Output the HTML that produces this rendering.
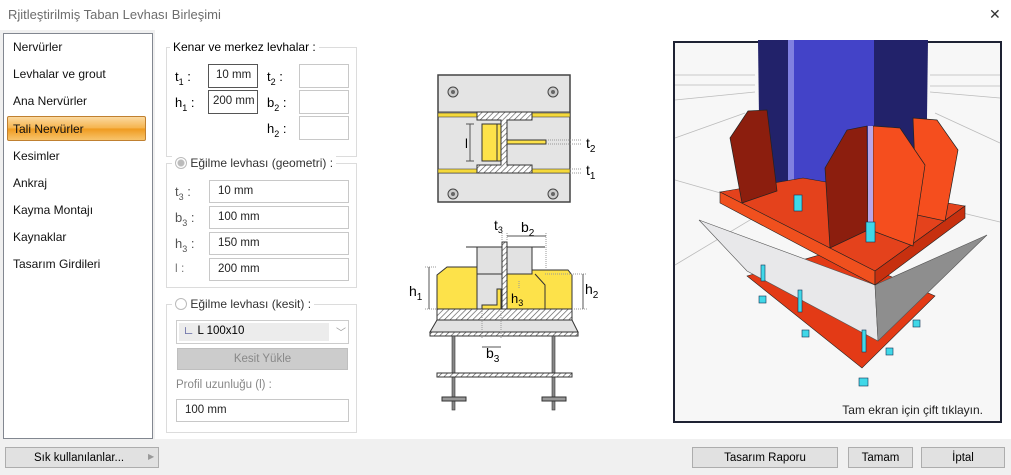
<!DOCTYPE html>
<html><head><meta charset="utf-8"><style>
*{margin:0;padding:0;box-sizing:border-box}
body{width:1011px;height:475px;background:#fff;font-family:"Liberation Sans",sans-serif;font-size:12px;color:#000;position:relative;overflow:hidden}
.a{position:absolute}
.in{position:absolute;border:1px solid #c8c8c8;background:#fff;font-size:11.5px;padding:4px 0 0 8px;color:#222;white-space:nowrap;overflow:hidden}
.grp{position:absolute;border:1px solid #dcdcdc}
.lg{position:absolute;background:#fff;padding:0 3px;font-size:12px;white-space:nowrap}
.li{position:absolute;left:13px;font-size:12px;color:#111}
.btn{position:absolute;background:#e1e1e1;border:1px solid #adadad;font-size:11.5px;text-align:center;padding-top:4px;white-space:nowrap}
sub{font-size:9px;vertical-align:-4px}
.lb{position:absolute;font-size:13px}
</style></head><body>
<div class="a" style="left:8px;top:7px;color:#6d6d6d;font-size:13px">Rjitleştirilmiş Taban Levhası Birleşimi</div>
<div class="a" style="left:989px;top:6px;font-size:14px;color:#333">✕</div>
<div class="a" style="left:0;top:439px;width:1011px;height:36px;background:#f0f0f0"></div>
<div class="a" style="left:0;top:30px;width:155px;height:410px;background:#f0f0f0"></div>
<div class="a" style="left:3px;top:33px;width:150px;height:406px;border:1px solid #828790;background:#fff"></div>
<div class="li" style="top:40px">Nervürler</div>
<div class="li" style="top:67px">Levhalar ve grout</div>
<div class="li" style="top:94px">Ana Nervürler</div>
<div class="a" style="left:7px;top:116px;width:139px;height:25px;border:1px solid #c08030;border-radius:2px;background:linear-gradient(#fbd9a0,#f5b24a 50%,#ef9a1e 51%,#f7c46c)"></div>
<div class="li" style="top:122px">Tali Nervürler</div>
<div class="li" style="top:149px">Kesimler</div>
<div class="li" style="top:176px">Ankraj</div>
<div class="li" style="top:203px">Kayma Montajı</div>
<div class="li" style="top:230px">Kaynaklar</div>
<div class="li" style="top:257px">Tasarım Girdileri</div>

<div class="grp" style="left:166px;top:47px;width:191px;height:110px"></div>
<div class="lg" style="left:170px;top:40px">Kenar ve merkez levhalar :</div>
<div class="lb" style="left:175px;top:69px">t<sub>1</sub> :</div>
<div class="lb" style="left:175px;top:95px">h<sub>1</sub> :</div>
<div class="lb" style="left:267px;top:69px">t<sub>2</sub> :</div>
<div class="lb" style="left:267px;top:95px">b<sub>2</sub> :</div>
<div class="lb" style="left:267px;top:121px">h<sub>2</sub> :</div>
<div class="in" style="left:208px;top:64px;width:50px;height:24px;border-color:#555;padding-left:7px">10 mm</div>
<div class="in" style="left:208px;top:90px;width:50px;height:24px;border-color:#555;padding-left:4px">200 mm</div>
<div class="in" style="left:299px;top:64px;width:50px;height:24px"></div>
<div class="in" style="left:299px;top:90px;width:50px;height:24px"></div>
<div class="in" style="left:299px;top:116px;width:50px;height:24px"></div>

<div class="grp" style="left:166px;top:163px;width:191px;height:125px"></div>
<div class="lg" style="left:172px;top:156px;color:#333"><span style="display:inline-block;width:12px;height:12px;border-radius:50%;border:1px solid #bbb;background:radial-gradient(#bbb 3px,#fff 4px);vertical-align:-2px"></span> Eğilme levhası (geometri) :</div>
<div class="lb" style="left:175px;top:184px;color:#555">t<sub>3</sub> :</div>
<div class="lb" style="left:175px;top:210px;color:#555">b<sub>3</sub> :</div>
<div class="lb" style="left:175px;top:236px;color:#555">h<sub>3</sub> :</div>
<div class="lb" style="left:175px;top:261px;color:#777;font-size:12px">l :</div>
<div class="in" style="left:209px;top:180px;width:140px;height:23px">10 mm</div>
<div class="in" style="left:209px;top:206px;width:140px;height:23px">100 mm</div>
<div class="in" style="left:209px;top:232px;width:140px;height:23px">150 mm</div>
<div class="in" style="left:209px;top:258px;width:140px;height:23px">200 mm</div>

<div class="grp" style="left:166px;top:304px;width:191px;height:129px"></div>
<div class="lg" style="left:172px;top:297px;color:#333"><span style="display:inline-block;width:12px;height:12px;border-radius:50%;border:1px solid #bbb;vertical-align:-2px"></span> Eğilme levhası (kesit) :</div>
<div class="a" style="left:176px;top:320px;width:173px;height:24px;border:1px solid #ccc;background:#fff"></div>
<div class="a" style="left:179px;top:323px;width:150px;height:18px;background:#ececec;font-size:11.5px;padding:2px 0 0 4px"><span style="color:#1a237e;font-weight:bold">∟</span> L 100x10</div>
<div class="a" style="left:336px;top:324px;color:#999;font-size:10px">﹀</div>
<div class="btn" style="left:177px;top:348px;width:171px;height:22px;background:#cccccc;border-color:#bfbfbf;color:#888">Kesit Yükle</div>
<div class="a" style="left:176px;top:379px;color:#888;font-size:11.5px">Profil uzunluğu (l) :</div>
<div class="in" style="left:176px;top:399px;width:173px;height:23px">100 mm</div>

<svg class="a" style="left:0;top:0" width="1011" height="475" font-family="Liberation Sans" >
<defs><pattern id="h" width="4" height="4" patternUnits="userSpaceOnUse" patternTransform="rotate(45)"><rect width="4" height="4" fill="#fff"/><line x1="0" y1="0" x2="0" y2="4" stroke="#555" stroke-width="1.3"/></pattern></defs>
<rect x="438" y="75" width="132" height="127" fill="#e4e4e4" stroke="#444" stroke-width="1.5"/>
<line x1="438" y1="112" x2="570" y2="112" stroke="#444"/><line x1="438" y1="173" x2="570" y2="173" stroke="#444"/>
<rect x="438" y="113" width="40" height="4" fill="#f5d93a" stroke="#444" stroke-width=".6"/><rect x="532" y="113" width="38" height="4" fill="#f5d93a" stroke="#444" stroke-width=".6"/>
<rect x="438" y="169" width="40" height="4" fill="#f5d93a" stroke="#444" stroke-width=".6"/><rect x="532" y="169" width="38" height="4" fill="#f5d93a" stroke="#444" stroke-width=".6"/>
<path d="M477 112h55v8h-25v45h25v8h-55v-8h24v-45h-24z" fill="url(#h)" stroke="#333"/>
<rect x="482" y="124" width="19" height="37" fill="#fde24a" stroke="#333"/><line x1="497" y1="124" x2="497" y2="161" stroke="#333"/>
<rect x="507" y="140" width="39" height="4" fill="#fde24a" stroke="#333"/>
<g fill="#ccc" stroke="#444"><circle cx="453" cy="92" r="5"/><circle cx="553" cy="92" r="5"/><circle cx="453" cy="194" r="5"/><circle cx="553" cy="194" r="5"/></g>
<g fill="#666"><circle cx="453" cy="92" r="2"/><circle cx="553" cy="92" r="2"/><circle cx="453" cy="194" r="2"/><circle cx="553" cy="194" r="2"/></g>
<g stroke="#999" stroke-dasharray="1,1"><line x1="546" y1="140" x2="582" y2="140"/><line x1="546" y1="144" x2="582" y2="144"/><line x1="570" y1="169" x2="582" y2="169"/><line x1="570" y1="173" x2="582" y2="173"/></g>
<line x1="470" y1="124" x2="470" y2="161" stroke="#555"/><line x1="466" y1="124" x2="474" y2="124" stroke="#555"/><line x1="466" y1="161" x2="474" y2="161" stroke="#555"/>
<text x="465" y="148" font-size="13">l</text>
<text x="586" y="148" font-size="14">t<tspan font-size="10" dy="4">2</tspan></text>
<text x="586" y="175" font-size="14">t<tspan font-size="10" dy="4">1</tspan></text>
<line x1="466" y1="247" x2="545" y2="247" stroke="#333"/>
<rect x="477" y="247" width="55" height="27" fill="#e2e2e2" stroke="#333"/>
<rect x="477" y="274" width="25" height="35" fill="#e2e2e2" stroke="#333"/>
<path d="M437 275l10-8h30v42h-40z" fill="#fde24a" stroke="#333"/>
<path d="M507 274h25v-4h36l4 5v34h-65z" fill="#fde24a" stroke="#333"/>
<path d="M545 309v-24l-10-11" fill="none" stroke="#333"/>
<path d="M482 309v-4h15v-16h4v20z" fill="#fde24a" stroke="#333"/>
<rect x="502" y="242" width="5" height="67" fill="url(#h)" stroke="#333"/>
<rect x="437" y="309" width="135" height="11" fill="url(#h)" stroke="#333"/>
<path d="M437 320h135l6 12h-148z" fill="#e2e2e2" stroke="#333"/>
<rect x="430" y="332" width="148" height="4" fill="url(#h)" stroke="#333"/>
<rect x="452" y="336" width="3" height="74" fill="#888" stroke="#333" stroke-width=".6"/><rect x="552" y="336" width="3" height="74" fill="#888" stroke="#333" stroke-width=".6"/>
<rect x="437" y="373" width="135" height="4" fill="url(#h)" stroke="#333"/>
<rect x="442" y="397" width="24" height="4" fill="#999" stroke="#333"/><rect x="542" y="397" width="24" height="4" fill="#999" stroke="#333"/>
<g stroke="#999" stroke-dasharray="1,1" fill="none"><path d="M425 267h12M425 309h12M545 274h42M572 309h15M502 233v9M507 233v9M546 233v37M482 309v30M501 309v30M519 288v-8"/></g>
<g stroke="#555"><line x1="429" y1="267" x2="429" y2="309"/><line x1="583" y1="274" x2="583" y2="309"/><line x1="507" y1="236" x2="546" y2="236"/><line x1="482" y1="347" x2="501" y2="347"/></g>
<text x="409" y="296" font-size="14">h<tspan font-size="10" dy="4">1</tspan></text>
<text x="585" y="294" font-size="14">h<tspan font-size="10" dy="4">2</tspan></text>
<text x="511" y="303" font-size="13">h<tspan font-size="9" dy="3">3</tspan></text>
<text x="494" y="230" font-size="14">t<tspan font-size="9" dy="3">3</tspan></text>
<text x="521" y="232" font-size="14">b<tspan font-size="10" dy="4">2</tspan></text>
<text x="486" y="358" font-size="14">b<tspan font-size="10" dy="4">3</tspan></text>
<rect x="674" y="42" width="327" height="380" fill="#f7f7f7" stroke="#1e2233" stroke-width="2"/>
<g stroke="#bbb" stroke-width=".8" fill="none"><path d="M675 75h80M930 75h70M675 85h80M930 86h70M675 100l80-8M930 92l70 6M675 138l70-25M935 113l65 30M675 265l100-60M950 210l50 12M675 180l70 20"/></g>
<path d="M758 40h170l-2 155h-166z" fill="#22226a"/>
<path d="M792 40h82v150h-82z" fill="#4343c8"/>
<path d="M788 40h6v150h-6z" fill="#8080e0"/>
<path d="M747 276l86-25l102 45l-73 72z" fill="#e33a16" stroke="#222" stroke-width=".6"/>
<path d="M699 220l176 65l3 56l-131-70z" fill="#e8e8ea" stroke="#555" stroke-width=".6"/>
<path d="M875 285l112-50l-109 106z" fill="#8e8e8e" stroke="#555" stroke-width=".6"/>
<path d="M720 192l83-14l162 28l-90 65z" fill="#e4421c" stroke="#222" stroke-width=".6"/>
<path d="M720 192l155 79v14l-155-82z" fill="#f0501e" stroke="#222" stroke-width=".6"/>
<path d="M875 271l90-65v12l-90 67z" fill="#c7300f" stroke="#222" stroke-width=".6"/>
<path d="M730 138l18-27l19-1l10 81l-35 12z" fill="#8c1e0e" stroke="#222" stroke-width=".7"/>
<path d="M913 118l24 2l21 30l-13 71l-28-6z" fill="#f54e1e" stroke="#222" stroke-width=".7"/>
<path d="M825 168l22-38l20-4l1 104l-38 18z" fill="#8c1e0e" stroke="#222" stroke-width=".7"/>
<path d="M873 126l27 2l25 37l-12 81l-40-15z" fill="#f54e1e" stroke="#222" stroke-width=".7"/>
<path d="M868 126l5 0v105l-5 0z" fill="#b9a6e8"/>
<g fill="#40d8e8" stroke="#135" stroke-width=".6"><rect x="794" y="195" width="8" height="16"/><rect x="866" y="222" width="9" height="20"/><rect x="761" y="265" width="4" height="16"/><rect x="798" y="290" width="4" height="22"/><rect x="862" y="330" width="4" height="22"/><rect x="759" y="296" width="7" height="7"/><rect x="802" y="330" width="7" height="7"/><rect x="859" y="378" width="9" height="8"/><rect x="886" y="348" width="7" height="7"/><rect x="913" y="320" width="7" height="7"/></g>
<text x="983" y="414" font-size="12" fill="#222" text-anchor="end">Tam ekran için çift tıklayın.</text>
</svg>

<div class="btn" style="left:5px;top:447px;width:154px;height:21px;text-align:left;padding-left:28px">Sık kullanılanlar...<span style="position:absolute;left:142px;top:4px;color:#999;font-size:8px">▶</span></div>
<div class="btn" style="left:692px;top:447px;width:146px;height:21px">Tasarım Raporu</div>
<div class="btn" style="left:848px;top:447px;width:65px;height:21px">Tamam</div>
<div class="btn" style="left:921px;top:447px;width:84px;height:21px">İptal</div>
</body></html>
